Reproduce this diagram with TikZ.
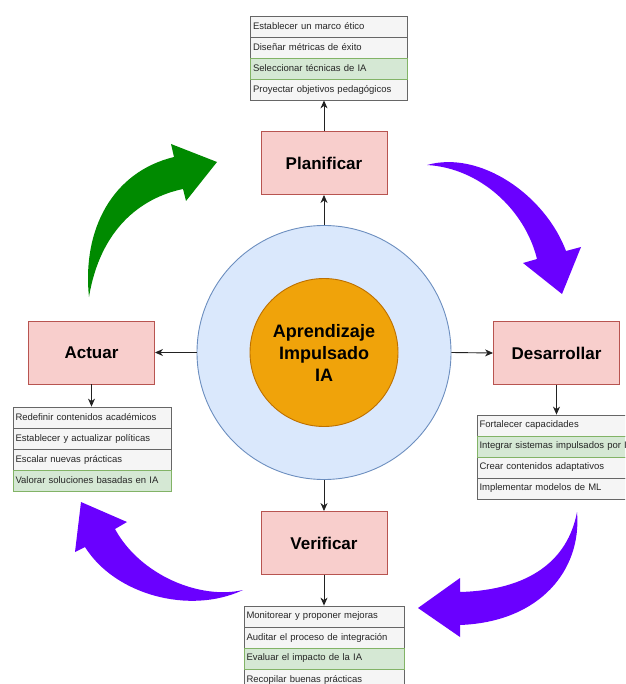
\documentclass[tikz,border=0pt]{standalone}
\usepackage{fontspec}
\setmainfont{Liberation Sans}
\usetikzlibrary{arrows.meta}
\definecolor{boxfill}{HTML}{F8CECC}
\definecolor{boxline}{HTML}{B85450}
\definecolor{rowfill}{HTML}{F5F5F5}
\definecolor{rowline}{HTML}{666666}
\definecolor{gfill}{HTML}{D5E8D4}
\definecolor{gline}{HTML}{82B366}
\definecolor{outfill}{HTML}{DAE8FC}
\definecolor{outline}{HTML}{6C8EBF}
\definecolor{infill}{HTML}{F0A30A}
\definecolor{inline}{HTML}{BD7000}
\definecolor{bigGreen}{HTML}{008A00}
\definecolor{bigPurple}{HTML}{6A00FF}
\definecolor{connc}{HTML}{222222}
\tikzset{
  phase/.style={rectangle, draw=boxline, fill=boxfill, line width=0.9pt, minimum width=126pt, minimum height=63pt, font=\fontsize{17}{20}\selectfont\bfseries, text=black},
  rowitem/.style={rectangle, draw=rowline, fill=rowfill, line width=0.8pt, minimum height=21pt, text width=#1, inner xsep=2.5pt, inner ysep=0pt, align=left, font=\fontsize{9.5}{11}\selectfont, text=black!85},
  rowgreen/.style={rowitem=#1, draw=gline, fill=gfill},
  conn/.style={draw=connc, line width=0.9pt, -{Stealth[length=8pt,width=7pt,inset=2.5pt]}},
  bigarrow/.style={fill=#1, draw=none}
}
\begin{document}
\begin{tikzpicture}[x=1pt,y=-1pt]
\useasboundingbox (0,0) rectangle (625,684);
\clip (0,0) rectangle (625,684);
% central circles
\node[circle, draw=outline, fill=outfill, line width=0.9pt, minimum size=254pt, inner sep=0pt] (outer) at (324,352.5) {};
\node[circle, draw=inline, fill=infill, line width=0.9pt, minimum size=148pt, inner sep=0pt, align=center, font=\fontsize{18}{22}\selectfont\bfseries, text=black] (core) at (324,352.5) {Aprendizaje\\Impulsado\\IA};
% phases
\node[phase] (plan) at (324,163) {Planificar};
\node[phase] (dev) at (556.5,353) {Desarrollar};
\node[phase] (ver) at (324,543) {Verificar};
\node[phase] (act) at (91.5,352.5) {Actuar};
% top list
\node[rowitem=152pt] (p1) at (329,26.5) {Establecer un marco ético};
\node[rowitem=152pt] (p2) at (329,47.5) {Diseñar métricas de éxito};
\node[rowitem=152pt] (p4) at (329,89.5) {Proyectar objetivos pedagógicos};
\node[rowgreen=152pt] (p3) at (329,68.5) {Seleccionar técnicas de IA};
% right list
\node[rowitem=155pt] (d1) at (557,425.5) {Fortalecer capacidades};
\node[rowitem=155pt] (d3) at (557,467.5) {Crear contenidos adaptativos};
\node[rowitem=155pt] (d4) at (557,488.5) {Implementar modelos de ML};
\node[rowgreen=155pt] (d2) at (557,446.5) {Integrar sistemas impulsados por IA};
% bottom list
\node[rowitem=155pt] (v1) at (324,616.5) {Monitorear y proponer mejoras};
\node[rowitem=155pt] (v2) at (324,637.5) {Auditar el proceso de integración};
\node[rowitem=155pt] (v4) at (324,679.5) {Recopilar buenas prácticas};
\node[rowgreen=155pt] (v3) at (324,658.5) {Evaluar el impacto de la IA};
% left list
\node[rowitem=153pt] (a1) at (92,417.5) {Redefinir contenidos académicos};
\node[rowitem=153pt] (a2) at (92,438.5) {Establecer y actualizar políticas};
\node[rowitem=153pt] (a3) at (92,459.5) {Escalar nuevas prácticas};
\node[rowgreen=153pt] (a4) at (92,480.5) {Valorar soluciones basadas en IA};
% connectors
\draw[conn] (outer.north) -- (plan.south);
\draw[conn] (outer.east) -- (dev.west);
\draw[conn] (outer.south) -- (ver.north);
\draw[conn] (outer.west) -- (act.east);
\draw[conn] (plan.north) -- (plan.north |- p4.south);
\draw[conn] (dev.south) -- (dev.south |- d1.north);
\draw[conn] (ver.south) -- (v1.north);
\draw[conn] (act.south) -- (act.south |- a1.north);
% big curved arrows
\fill[bigarrow=bigGreen] (89,297) .. controls (82,230) and (112,172) .. (174,157) -- (171,144) -- (217,162) -- (186,201) -- (183,189) .. controls (140,198) and (100,230) .. (89,297) -- cycle;
\fill[bigarrow=bigPurple] (427,165) .. controls (480,150) and (545,195) .. (566,251) -- (581,247) -- (562,294) -- (523,263) -- (537,259) .. controls (525,210) and (480,168) .. (427,165) -- cycle;
\fill[bigarrow=bigPurple] (577,512) .. controls (582,570) and (540,622) .. (460,625) -- (460,637) -- (418,608) -- (460,578) -- (460,592) .. controls (530,590) and (568,560) .. (577,512) -- cycle;
\fill[bigarrow=bigPurple] (243,590) .. controls (190,615) and (115,595) .. (85,547) -- (75,552) -- (81,502) -- (127,522) -- (115,529) .. controls (140,575) and (200,600) .. (243,590) -- cycle;
\end{tikzpicture}
\end{document}
